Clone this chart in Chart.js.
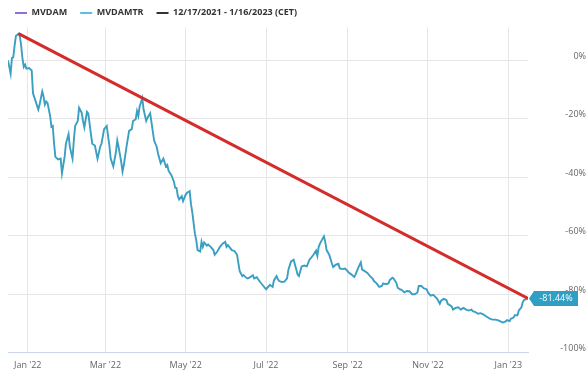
<!DOCTYPE html>
<html>
<head>
<meta charset="utf-8">
<script src="https://cdn.jsdelivr.net/npm/chart.js@4/dist/chart.umd.min.js"></script>
<style>
  html, body { margin: 0; padding: 0; background: #ffffff; }
  canvas { display: block; }
</style>
</head>
<body>
<canvas id="perf-chart" width="586" height="380"></canvas>
<script>
// days since 12/17/2021 and total-return performance in %
const tradeDays = [
    0, 2, 3, 4, 5, 6, 8, 9, 10, 11, 12, 13, 14, 16, 18, 19, 21, 23, 24, 26,
    27, 28, 29, 30, 32, 33, 34, 35, 36, 38, 40, 41, 43, 44, 46, 47, 49, 50, 51, 53,
    54, 56, 57, 58, 60, 61, 63, 64, 66, 68, 70, 71, 73, 75, 77, 78, 80, 82, 83, 84,
    86, 87, 88, 90, 92, 94, 95, 97, 98, 99, 100, 102, 103, 105, 106, 108, 109, 111, 113, 114,
    116, 118, 120, 121, 122, 124, 126, 127, 128, 129, 130, 132, 133, 135, 136, 138, 139, 140, 142, 143,
    144, 146, 147, 148, 149, 151, 152, 154, 156, 157, 159, 161, 163, 165, 166, 167, 169, 170, 172, 174,
    175, 176, 178, 179, 181, 182, 184, 186, 187, 189, 190, 192, 194, 196, 197, 199, 201, 202, 204, 205,
    206, 208, 210, 212, 213, 215, 217, 218, 220, 221, 223, 225, 227, 229, 230, 232, 234, 235, 236, 237,
    239, 240, 241, 242, 244, 246, 247, 249, 251, 252, 254, 256, 258, 259, 261, 263, 264, 266, 268, 269,
    271, 273, 275, 277, 278, 280, 282, 284, 285, 287, 289, 290, 292, 293, 295, 296, 298, 299, 301, 303,
    305, 307, 309, 311, 312, 314, 316, 318, 319, 321, 323, 325, 326, 328, 329, 331, 333, 334, 337, 338,
    340, 342, 344, 346, 348, 350, 352, 353, 355, 357, 359, 361, 362, 364, 366, 368, 370, 372, 374, 376,
    378, 379, 381, 382, 384, 385, 387, 388, 390, 391, 392, 394, 395
];
const mvdamtrValues = [
    0.0, -4.5, 0.9, 1.1, 5.0, 8.4, 9.2, 8.4, 5.0, 0.6, -2.2, -1.4, -2.8, -2.6, -3.4, -11.2, -14.0, -16.8, -15.1, -10.6,
    -12.3, -15.1, -14.0, -14.5, -19.0, -22.7, -22.4, -28.5, -33.0, -33.9, -33.6, -38.6, -33.0, -28.5, -25.2, -29.6, -33.6, -27.4, -22.4, -20.7,
    -16.2, -17.9, -20.7, -22.9, -17.6, -18.2, -25.2, -28.5, -29.1, -33.6, -29.6, -28.5, -23.5, -22.4, -29.1, -33.6, -36.3, -31.3, -27.4, -29.6,
    -34.7, -38.0, -35.8, -29.6, -24.1, -23.5, -20.7, -20.1, -17.3, -19.0, -15.7, -12.9, -16.8, -20.7, -19.6, -18.1, -21.2, -27.4, -29.6, -31.9,
    -35.2, -33.6, -36.3, -35.8, -37.8, -39.2, -41.4, -43.6, -43.6, -46.4, -47.6, -46.4, -48.1, -45.9, -45.3, -44.7, -49.2, -52.0, -59.3, -61.5,
    -64.9, -65.4, -62.1, -63.8, -62.3, -63.4, -63.0, -63.8, -64.9, -66.5, -65.4, -63.8, -62.7, -62.1, -63.8, -63.2, -64.3, -64.9, -65.2, -66.5,
    -69.4, -72.1, -73.8, -73.5, -74.4, -74.6, -74.2, -73.5, -74.6, -74.2, -74.9, -76.1, -77.2, -78.3, -77.8, -76.8, -77.5, -75.3, -73.8, -74.9,
    -75.5, -75.8, -75.7, -74.6, -71.6, -68.8, -68.2, -69.9, -73.3, -73.8, -70.5, -70.2, -70.5, -68.2, -67.7, -66.5, -65.1, -66.9, -63.8, -62.7,
    -61.0, -60.2, -62.1, -64.9, -66.5, -69.4, -70.7, -69.9, -69.6, -71.2, -71.4, -71.2, -72.1, -72.7, -73.3, -74.1, -73.3, -71.0, -69.1, -71.6,
    -72.1, -72.7, -73.8, -74.7, -75.5, -76.3, -77.5, -77.2, -76.3, -76.6, -76.3, -75.2, -74.4, -74.7, -76.1, -77.8, -78.4, -78.5, -79.4, -78.9,
    -79.0, -80.0, -80.0, -79.4, -77.2, -77.2, -78.0, -78.3, -79.4, -80.5, -80.2, -81.1, -81.6, -83.3, -82.2, -81.6, -82.0, -83.3, -84.2, -85.3,
    -84.7, -84.5, -85.3, -84.7, -85.3, -85.6, -85.3, -85.8, -86.1, -86.7, -86.5, -86.9, -87.2, -87.8, -88.4, -88.7, -88.7, -88.9, -89.3, -89.7,
    -89.3, -88.9, -89.2, -88.4, -88.0, -87.2, -87.2, -85.6, -84.5, -82.8, -82.0, -81.6, -81.44
];

// trend line from the December peak to the last close
const trendDays = [8, 395];
const trendValues = [9.2, -81.44];

const tickDays = [15, 74, 135, 196, 258, 319, 380];
const tickLabels = ["Jan '22", "Mar '22", "May '22", "Jul '22", "Sep '22", "Nov '22", "Jan '23"];
const yTicks = [0, -20, -40, -60, -80, -100];

const legendNames = ['MVDAM', 'MVDAMTR', '12/17/2021 - 1/16/2023 (CET)'];
const legendColors = ['#8f6fd8', '#5bbfe0', '#333333'];

const lineColor = '#3a9fc1';
const trendColor = '#d42b2b';
const gridColor = '#e6e6e6';

Chart.defaults.font.family = "'Open Sans', sans-serif";

const lastValueLabel = {
    id: 'lastValueLabel',
    afterDatasetsDraw(chart) {
        const meta = chart.getDatasetMeta(1);
        const pt = meta.data[meta.data.length - 1];
        const value = mvdamtrValues[mvdamtrValues.length - 1];
        const c = chart.ctx;
        const x = pt.x + 1, y = pt.y;
        const h = 15, w = 44, arrow = 5;
        c.save();
        c.fillStyle = '#2f9fc4';
        c.beginPath();
        c.moveTo(x, y);
        c.lineTo(x + arrow, y - h / 2);
        c.lineTo(x + arrow + w, y - h / 2);
        c.lineTo(x + arrow + w, y + h / 2);
        c.lineTo(x + arrow, y + h / 2);
        c.closePath();
        c.fill();
        c.fillStyle = '#ffffff';
        c.font = "9px 'Open Sans', sans-serif";
        c.textAlign = 'center';
        c.textBaseline = 'middle';
        c.fillText(value.toFixed(2) + '%', x + arrow + w / 2, y + 0.5);
        c.restore();
    }
};

const canvas = document.getElementById('perf-chart');
const perfChart = new Chart(canvas.getContext('2d'), {
    type: 'line',
    data: {
        datasets: [
            {
                label: 'Trend',
                data: trendDays.map((d, i) => ({x: d, y: trendValues[i]})),
                borderColor: trendColor,
                borderWidth: 3,
                pointRadius: 0,
                yAxisID: 'y',
            },
            {
                label: 'MVDAMTR',
                data: tradeDays.map((d, i) => ({x: d, y: mvdamtrValues[i]})),
                borderColor: lineColor,
                borderWidth: 1.9,
                pointRadius: 0,
                tension: 0,
                yAxisID: 'y',
            },
        ]
    },
    options: {
        responsive: false,
        animation: false,
        layout: {
            padding: {top: -11, left: 2, right: 0, bottom: 0}
        },
        plugins: {
            tooltip: {enabled: false},
            legend: {
                position: 'top',
                align: 'start',
                labels: {
                    padding: 13,
                    usePointStyle: true,
                    pointStyleWidth: 12,
                    color: '#333333',
                    font: {size: 9, weight: 'bold'},
                    generateLabels: () => legendNames.map((name, i) => ({
                        text: name,
                        strokeStyle: legendColors[i],
                        fillStyle: legendColors[i],
                        lineWidth: 2,
                        pointStyle: 'line',
                        hidden: false,
                        fontColor: '#333333',
                    })),
                },
            },
        },
        scales: {
            x: {
                type: 'linear',
                min: 0,
                max: 395,
                afterBuildTicks: scale => {
                    scale.ticks = tickDays.map(v => ({value: v}));
                },
                afterFit: scale => {
                    scale.height = 25;
                },
                ticks: {
                    autoSkip: false,
                    maxRotation: 0,
                    padding: 7,
                    color: '#666666',
                    font: {size: 9},
                    callback: v => tickLabels[tickDays.indexOf(v)],
                },
                grid: {
                    color: gridColor,
                    drawTicks: false,
                },
                border: {
                    color: '#ccd6eb',
                },
            },
            y: {
                type: 'linear',
                position: 'right',
                min: -100,
                max: 11.33,
                afterBuildTicks: scale => {
                    scale.ticks = yTicks.map(v => ({value: v}));
                },
                afterFit: scale => {
                    scale.width = 58;
                },
                ticks: {
                    crossAlign: 'far',
                    padding: 22,
                    labelOffset: -4,
                    color: '#666666',
                    font: {size: 9},
                    callback: v => v + '%',
                },
                grid: {
                    color: gridColor,
                    drawTicks: false,
                },
                border: {display: false},
            },
            pad: {
                type: 'linear',
                position: 'left',
                afterFit: scale => {
                    scale.width = 6;
                },
                ticks: {display: false},
                grid: {display: false},
                border: {display: false},
            },
        }
    },
    plugins: [lastValueLabel]
});
</script>
</body>
</html>
